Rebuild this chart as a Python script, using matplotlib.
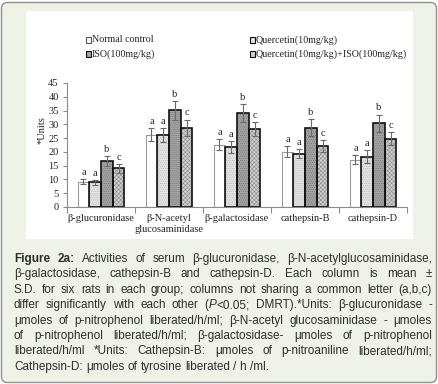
import re
import numpy as np
import matplotlib
matplotlib.use("Agg")
import matplotlib.pyplot as plt
from matplotlib.patches import Rectangle, FancyBboxPatch

W, H = 439, 384

categories = ["β-glucuronidase", "β-N-acetyl\nglucosaminidase", "β-galactosidase",
              "cathepsin-B", "cathepsin-D"]
groups = ["Normal control", "Quercetin(10mg/kg)", "ISO(100mg/kg)",
          "Quercetin(10mg/kg)+ISO(100mg/kg)"]

normal = [9.1, 26.2, 22.6, 20.1, 17.1]
quercetin = [8.9, 26.1, 21.8, 19.4, 18.3]
iso = [16.6, 35.1, 34.1, 28.8, 30.4]
quer_iso = [14.0, 28.8, 28.3, 22.1, 24.8]

normal_sd = [0.9, 2.4, 2.0, 1.9, 1.6]
quercetin_sd = [0.8, 2.6, 2.1, 1.6, 2.4]
iso_sd = [1.8, 3.4, 3.3, 3.1, 3.1]
quer_iso_sd = [1.5, 2.9, 2.5, 2.3, 2.4]

letters = ["a", "a", "b", "c"]

caption = [
    "**Figure** **2a:** Activities of serum β-glucuronidase, β-N-acetylglucosaminidase,",
    "β-galactosidase, cathepsin-B and cathepsin-D. Each column is mean ±",
    "S.D. for six rats in each group; columns not sharing a common letter (a,b,c)",
    "differ significantly with each other (_P_<0.05; DMRT).*Units: β-glucuronidase -",
    "μmoles of p-nitrophenol liberated/h/ml; β-N-acetyl glucosaminidase - μmoles",
    "of p-nitrophenol liberated/h/ml; β-galactosidase- μmoles of p-nitrophenol",
    "liberated/h/ml *Units: Cathepsin-B: μmoles of p-nitroaniline liberated/h/ml;",
    "Cathepsin-D: μmoles of tyrosine liberated / h /ml.",
]

SERIF = "Liberation Serif"
SANS = "Liberation Sans"

# bar styles: face, hatch, hatch colour, edge, edge width
styles = [
    ("white", "", "#999999", "#9a9a9a", 0.8),
    ("#e4e4e4", "........", "#b4b4b4", "#111111", 1.2),
    ("#a4a4a4", "........", "#707070", "#111111", 1.2),
    ("#cfcfcf", "xxxxxxxx", "#8c8c8c", "#111111", 1.2),
]
plt.rcParams["hatch.linewidth"] = 0.4


def fx(x):
    return x / W


def fy(y):
    return 1 - y / H


fig = plt.figure(figsize=(W / 100, H / 100), dpi=100)
fig.patch.set_facecolor("white")

# outer caption box and white chart panel
fig.add_artist(FancyBboxPatch((1.5 / 100, 1.5 / 100), (W - 4) / 100, (H - 4) / 100,
                              boxstyle="round,pad=0,rounding_size=0.06",
                              transform=fig.dpi_scale_trans, facecolor="#eef2e7",
                              edgecolor="#8f8f8f", linewidth=1.0, zorder=-2))
fig.add_artist(Rectangle((fx(26), fy(239)), fx(413) - fx(26), fy(11) - fy(239),
                         transform=fig.transFigure, facecolor="white",
                         edgecolor="none", zorder=-1))

ax = fig.add_axes([fx(67), fy(207), fx(407) - fx(67), fy(83) - fy(207)])
ax.set_facecolor("none")
ax.set_zorder(1)

series = [normal, quercetin, iso, quer_iso]
errors = [normal_sd, quercetin_sd, iso_sd, quer_iso_sd]
x = np.arange(len(categories)) + 0.5
bw = 0.172
for k, (vals, sds) in enumerate(zip(series, errors)):
    face, hatch, hcol, ecol, elw = styles[k]
    pos = x + (k - 1.5) * bw
    ax.bar(pos, vals, bw, color=face, hatch=hatch, edgecolor=hcol, linewidth=0, zorder=2)
    ax.bar(pos, vals, bw, fill=False, edgecolor=ecol, linewidth=elw, zorder=3)
    ax.errorbar(pos, vals, yerr=sds, fmt="none", ecolor="#6a6a6a", elinewidth=0.8,
                capsize=2, capthick=0.8, zorder=4)
    for p, v, s in zip(pos, vals, sds):
        ax.text(p, v + s + 0.8, letters[k], ha="center", va="bottom",
                fontsize=7.5, family=SERIF, color="#222222")

ax.set_xlim(0, len(categories))
ax.set_ylim(0, 45)
ax.set_yticks(np.arange(0, 46, 5))
ax.set_xticks(np.arange(0, len(categories) + 1))
ax.set_xticklabels([])
ax.set_xticks(x, minor=True)
ax.set_xticklabels(categories, minor=True, fontsize=7.5, family=SERIF,
                   color="#222222", linespacing=1.35)
ax.tick_params(axis="x", which="major", length=4, color="#8a8a8a", width=0.8)
ax.tick_params(axis="x", which="minor", length=0, pad=5)
ax.tick_params(axis="y", length=3, color="#8a8a8a", width=0.8, labelsize=7.5,
               labelcolor="#222222", pad=3)
for lab in ax.get_yticklabels():
    lab.set_family(SERIF)
for s in ["top", "right"]:
    ax.spines[s].set_visible(False)
for s in ["left", "bottom"]:
    ax.spines[s].set_color("#8a8a8a")
    ax.spines[s].set_linewidth(0.8)

fig.text(fx(42), fy(130), "*Units", rotation=90, ha="center", va="center",
         fontsize=7.5, family=SERIF, color="#222222")

# legend drawn by hand, Excel style
legend_pos = [(86, 40), (250, 40), (86, 54), (250, 54)]
for k, (lx, ly) in enumerate(legend_pos):
    face, hatch, hcol, ecol, elw = styles[k]
    fig.add_artist(Rectangle((fx(lx), fy(ly + 2.5)), fx(5), 5 / H,
                             transform=fig.transFigure, facecolor=face,
                             edgecolor=ecol if k else "#555555", linewidth=0.8))
    fig.text(fx(lx + 6), fy(ly), groups[k], ha="left", va="center",
             fontsize=7.2, family=SERIF, color="#222222")


# justified caption
def pieces(word):
    out = []
    for part in re.split(r"(\*\*.+?\*\*|_.+?_)", word):
        if not part:
            continue
        if part.startswith("**"):
            out.append((part[2:-2], "bold", "normal"))
        elif part.startswith("_") and len(part) > 2:
            out.append((part[1:-1], "normal", "italic"))
        else:
            out.append((part, "normal", "normal"))
    return out


CAP_FS = 8.5
renderer = fig.canvas.get_renderer()
left, right = 14, 432
y0, dy = 262, 15.4
for i, line in enumerate(caption):
    yy = fy(y0 + i * dy)
    words = []
    for w in line.split(" "):
        arts = []
        for txt, wt, st in pieces(w):
            t = fig.text(0, yy, txt, ha="left", va="baseline", fontsize=CAP_FS,
                         family=SANS, fontweight=wt, fontstyle=st, color="#2e2e2e")
            arts.append((t, t.get_window_extent(renderer).width))
        words.append(arts)
    widths = [sum(a[1] for a in wd) for wd in words]
    if i < len(caption) - 1:
        gap = (right - left - sum(widths)) / (len(words) - 1)
    else:
        sp = fig.text(0, 0, "a a", fontsize=CAP_FS, family=SANS)
        sp2 = fig.text(0, 0, "aa", fontsize=CAP_FS, family=SANS)
        gap = sp.get_window_extent(renderer).width - sp2.get_window_extent(renderer).width
        sp.remove()
        sp2.remove()
    cx = left
    for wd, wdt in zip(words, widths):
        px = cx
        for t, tw in wd:
            t.set_x(fx(px))
            px += tw
        cx += wdt + gap

fig.savefig("out.png", dpi=100)
